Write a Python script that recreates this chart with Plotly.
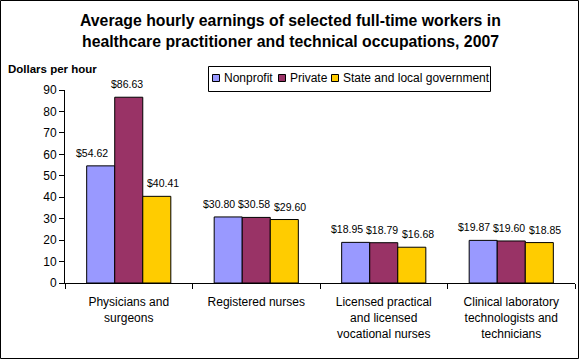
import plotly.graph_objects as go

categories = ["Physicians and<br>surgeons", "Registered nurses",
              "Licensed practical<br>and licensed<br>vocational nurses",
              "Clinical laboratory<br>technologists and<br>technicians"]
nonprofit = [54.62, 30.80, 18.95, 19.87]
private = [86.63, 30.58, 18.79, 19.60]
state_local = [40.41, 29.60, 16.68, 18.85]
series_names = ["Nonprofit", "Private", "State and local government"]
colors = ["#9999FF", "#993366", "#FFCC00"]
y_ticks = list(range(0, 91, 10))

W, H = 580, 360
ml, mr, mt, mb = 65, 5, 90, 77
pw, ph = W - ml - mr, H - mt - mb


def px(x):
    return (x - ml) / pw


def py(y):
    return 1 - (y - mt) / ph


fig = go.Figure()
for name, vals, col in zip(series_names, [nonprofit, private, state_local], colors):
    fig.add_trace(go.Bar(
        name=name, x=categories, y=vals,
        marker=dict(color=col, line=dict(color="black", width=1)),
        cliponaxis=False,
    ))

# value labels above bars
label_xshift = [-37, -2, 34]
for vals, off in zip([nonprofit, private, state_local], label_xshift):
    for cat, v in zip(categories, vals):
        fig.add_annotation(x=cat, y=v, xref="x", yref="y", text=f"${v:.2f}",
                           showarrow=False, xanchor="center", yanchor="middle",
                           xshift=off, yshift=13, font=dict(size=10.5))

fig.update_layout(
    width=W, height=H,
    margin=dict(l=ml, r=mr, t=mt, b=mb, autoexpand=False),
    paper_bgcolor="white", plot_bgcolor="white",
    font=dict(family="Liberation Sans, Arial, sans-serif", size=12, color="black"),
    barmode="group", bargap=0.34, bargroupgap=0,
    showlegend=False,
)
fig.update_xaxes(showline=True, linecolor="black", linewidth=1, automargin=False,
                 ticks="outside", ticklen=5, tickcolor="black", tickson="boundaries",
                 ticklabelstandoff=8,
                 showgrid=False, tickfont=dict(size=12))
fig.update_yaxes(range=[0, 90], tickvals=y_ticks, showline=True, linecolor="black",
                 linewidth=1, ticks="outside", ticklen=5, tickcolor="black", automargin=False,
                 showgrid=False, zeroline=False, tickfont=dict(size=12))

# title (two lines)
title_lines = ["Average hourly earnings of selected full-time workers in",
               "healthcare practitioner and technical occupations, 2007"]
for line, yc in zip(title_lines, [20.5, 41.5]):
    fig.add_annotation(text=f"<b>{line}</b>", xref="paper", yref="paper",
                       x=px(290), y=py(yc), xanchor="center", yanchor="middle",
                       showarrow=False, font=dict(size=15.8))
fig.add_annotation(text="<b>Dollars per hour</b>", xref="paper", yref="paper",
                   x=px(6), xanchor="left", y=py(68.5), yanchor="middle",
                   showarrow=False, font=dict(size=11.5))

# legend (manual)
fig.add_shape(type="rect", xref="paper", yref="paper",
              x0=px(208.5), x1=px(490.5), y0=py(91.5), y1=py(66.5),
              line=dict(color="black", width=1), fillcolor="white")
legend_sq_x = [212, 278, 331]
for name, col, sx in zip(series_names, colors, legend_sq_x):
    fig.add_shape(type="rect", xref="paper", yref="paper",
                  x0=px(sx + 0.5), x1=px(sx + 7.5), y0=py(81.5), y1=py(74.5),
                  line=dict(color="black", width=1), fillcolor=col)
    fig.add_annotation(text=name, xref="paper", yref="paper", x=px(sx + 10),
                       y=py(78), xanchor="left", yanchor="middle", showarrow=False,
                       font=dict(size=12))

# outer border
fig.add_shape(type="rect", xref="paper", yref="paper",
              x0=px(0.5), x1=px(W - 1.5), y0=py(H - 1.5), y1=py(0.5),
              line=dict(color="black", width=1), layer="above")

fig.write_html("out.html", config={"displayModeBar": False},
               post_script="document.body.style.margin='0';document.body.style.overflow='hidden';")
